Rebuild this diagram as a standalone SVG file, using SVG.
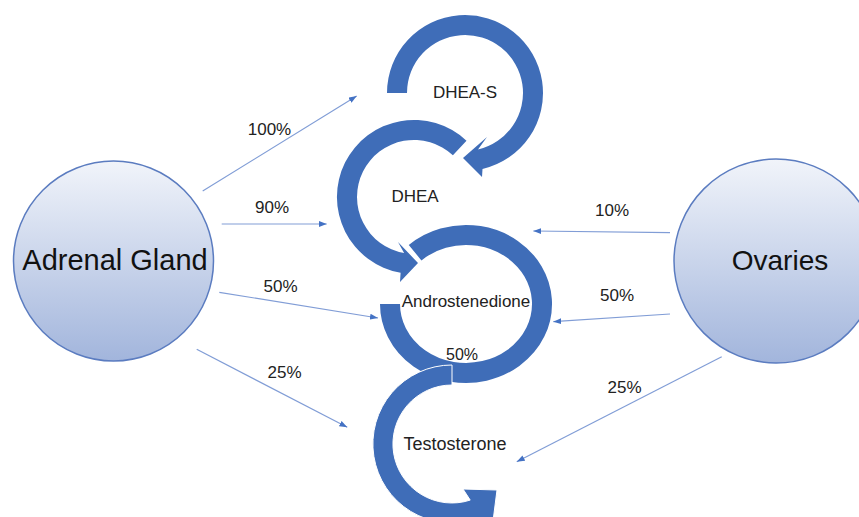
<svg xmlns="http://www.w3.org/2000/svg" width="859" height="517" viewBox="0 0 859 517">
<defs>
<linearGradient id="gl" x1="0" y1="0" x2="0" y2="1">
<stop offset="0" stop-color="#F1F4FA"/>
<stop offset="1" stop-color="#A2B5DC"/>
</linearGradient>
<marker id="ah" viewBox="0 0 8 6" refX="8" refY="3" markerWidth="8" markerHeight="6" markerUnits="userSpaceOnUse" orient="auto">
<path d="M0,0 L8,3 L0,6 Z" fill="#4472C4"/>
</marker>
</defs>
<style>
.gland{fill:url(#gl);stroke:#5B7CC0;stroke-width:1.5}
.big{font-family:"Liberation Sans",Arial,sans-serif;font-size:28px;fill:#111;text-anchor:middle}
.lbl{font-family:"Liberation Sans",Arial,sans-serif;font-size:17px;fill:#222;text-anchor:middle}
.arc{fill:#3F6DB8}
.ring{fill:none;stroke:#3F6DB8;stroke-width:20}
.conn{stroke:#819DD6;stroke-width:1.2;fill:none;marker-end:url(#ah)}
</style>
<rect width="859" height="517" fill="#fff"/>

<g id="adrenal-gland">
<circle class="gland" cx="113.5" cy="261" r="100"/>
<text class="big" x="115" y="270" style="font-size:29px">Adrenal Gland</text>
</g>

<g id="ovaries">
<circle class="gland" cx="776" cy="261" r="102"/>
<text class="big" x="780" y="270">Ovaries</text>
</g>

<g id="androstenedione">
<path class="ring" d="M415.1,252.7 A76,69 0 1 1 390,304"/>
<text class="lbl" x="466" y="307">Androstenedione</text>
</g>

<g id="dhea">
<path class="arc" d="M466.5,140.7 A77,77 0 1 0 400.6,272.8 L400,282 L418,263 L398,242 L404.1,253.1 A57,57 0 1 1 452.9,155.3 Z"/>
<text class="lbl" x="415" y="202">DHEA</text>
</g>

<g id="dhea-s">
<path class="arc" d="M387,93 A78,78 0 1 1 482.5,169 L482,177 L463,158 L487,137 L478,149.5 A58,58 0 1 0 407,93 Z"/>
<text class="lbl" x="465" y="98">DHEA-S</text>
</g>

<g id="testosterone">
<path class="arc" stroke="#fff" stroke-width="1" d="M452,365 A79,79 0 1 0 476.4,519.1 L490,545 L497,490 L463,489 L470.2,500.1 A59,59 0 1 1 452,385 Z"/>
<text class="lbl" x="455" y="450" style="font-size:18px">Testosterone</text>
</g>

<g id="connectors">
<line class="conn" x1="202.7" y1="191" x2="356.7" y2="96"/>
<line class="conn" x1="221.7" y1="224" x2="326.7" y2="224"/>
<line class="conn" x1="219.3" y1="292.3" x2="378" y2="318"/>
<line class="conn" x1="196.7" y1="349.3" x2="347.3" y2="427.3"/>
<line class="conn" x1="670" y1="232.7" x2="533.3" y2="231"/>
<line class="conn" x1="670" y1="314" x2="553.3" y2="321.7"/>
<line class="conn" x1="721.7" y1="356.7" x2="516.7" y2="461.7"/>
<g class="lbl">
<text class="lbl" x="269.5" y="135">100%</text>
<text class="lbl" x="272" y="213">90%</text>
<text class="lbl" x="280.5" y="292">50%</text>
<text class="lbl" x="284.5" y="378">25%</text>
<text class="lbl" x="612" y="216">10%</text>
<text class="lbl" x="617" y="301">50%</text>
<text class="lbl" x="624.5" y="393">25%</text>
<text class="lbl" x="462" y="360" style="font-size:16px">50%</text>
</g>
</g>
</svg>
